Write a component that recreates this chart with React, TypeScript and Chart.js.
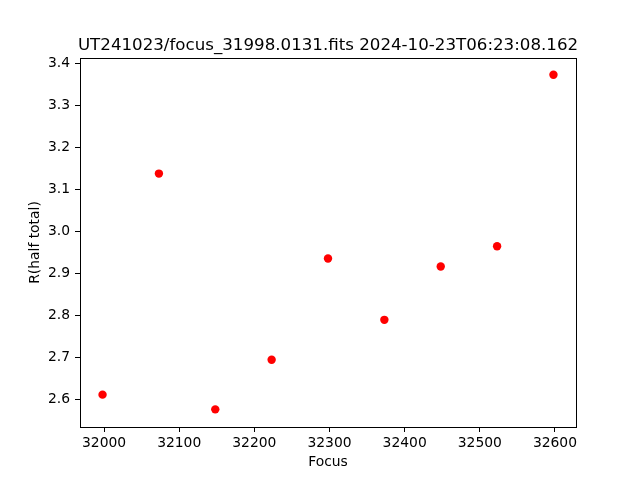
import React, { useEffect, useRef } from "react";
import { Chart, registerables } from "chart.js";

Chart.register(...registerables);

const focusValues = [31998, 32073, 32148, 32223, 32298, 32373, 32448, 32523, 32598];
const radiusValues = [2.612, 3.138, 2.577, 2.695, 2.936, 2.790, 2.917, 2.965, 3.373];
const xTicks = [32000, 32100, 32200, 32300, 32400, 32500, 32600];
const yTicks = [2.6, 2.7, 2.8, 2.9, 3.0, 3.1, 3.2, 3.3, 3.4];
const titleText = "UT241023/focus_31998.0131.fits 2024-10-23T06:23:08.162";
const xLabel = "Focus";
const yLabel = "R(half total)";

const FONT = "'DejaVu Sans', sans-serif";

export default function App() {
  const ref = useRef<HTMLCanvasElement | null>(null);

  useEffect(() => {
    document.body.style.margin = "0";
    const canvas = ref.current;
    if (!canvas) return;

    const framePlugin = {
      id: "frameAndTitle",
      afterDraw(chart: any) {
        const { ctx, chartArea } = chart;
        ctx.save();
        ctx.strokeStyle = "#000";
        ctx.lineWidth = 1;
        ctx.strokeRect(
          Math.round(chartArea.left) + 0.5,
          Math.round(chartArea.top) + 0.5,
          Math.round(chartArea.right - chartArea.left),
          Math.round(chartArea.bottom - chartArea.top)
        );
        ctx.fillStyle = "#000";
        ctx.font = `16.67px ${FONT}`;
        ctx.textAlign = "center";
        ctx.textBaseline = "alphabetic";
        ctx.fillText(titleText, (chartArea.left + chartArea.right) / 2, chartArea.top - 8.3);
        ctx.restore();
      },
    };

    const chart = new Chart(canvas, {
      type: "scatter",
      data: {
        datasets: [
          {
            data: focusValues.map((x, i) => ({ x, y: radiusValues[i] })),
            backgroundColor: "#ff0000",
            borderWidth: 0,
            pointRadius: 4.2,
            pointHoverRadius: 4.2,
          },
        ],
      },
      options: {
        responsive: false,
        animation: false,
        events: [],
        layout: { padding: { top: 58, right: 64, left: 0, bottom: 0 } },
        plugins: { legend: { display: false }, tooltip: { enabled: false }, title: { display: false } },
        scales: {
          x: {
            type: "linear",
            min: 31968,
            max: 32628,
            afterBuildTicks: (scale: any) => {
              scale.ticks = xTicks.map((v) => ({ value: v }));
            },
            afterFit: (scale: any) => {
              scale.height = 53;
            },
            grid: { drawOnChartArea: false, drawTicks: true, tickLength: 5, color: "#000", lineWidth: 1 },
            border: { display: false },
            ticks: {
              color: "#000",
              font: { family: FONT, size: 13.89 },
              padding: 3,
              maxRotation: 0,
              autoSkip: false,
              callback: (v: any) => String(v),
            },
            title: {
              display: true,
              text: xLabel,
              color: "#000",
              font: { family: FONT, size: 13.89 },
              padding: { top: 0, bottom: 9 },
            },
          },
          y: {
            type: "linear",
            min: 2.535,
            max: 3.413,
            afterBuildTicks: (scale: any) => {
              scale.ticks = yTicks.map((v) => ({ value: v }));
            },
            afterFit: (scale: any) => {
              scale.width = 80;
            },
            grid: { drawOnChartArea: false, drawTicks: true, tickLength: 5, color: "#000", lineWidth: 1 },
            border: { display: false },
            ticks: {
              color: "#000",
              font: { family: FONT, size: 13.89 },
              padding: 5,
              autoSkip: false,
              callback: (v: any) => Number(v).toFixed(1),
            },
            title: {
              display: true,
              text: yLabel,
              color: "#000",
              font: { family: FONT, size: 13.89 },
              padding: { top: 27, bottom: 0 },
            },
          },
        },
      },
      plugins: [framePlugin],
    });

    return () => chart.destroy();
  }, []);

  return (
    <div style={{ width: 640, height: 480, background: "#fff" }}>
      <canvas ref={ref} width={640} height={480} style={{ display: "block", width: 640, height: 480 }} />
    </div>
  );
}
